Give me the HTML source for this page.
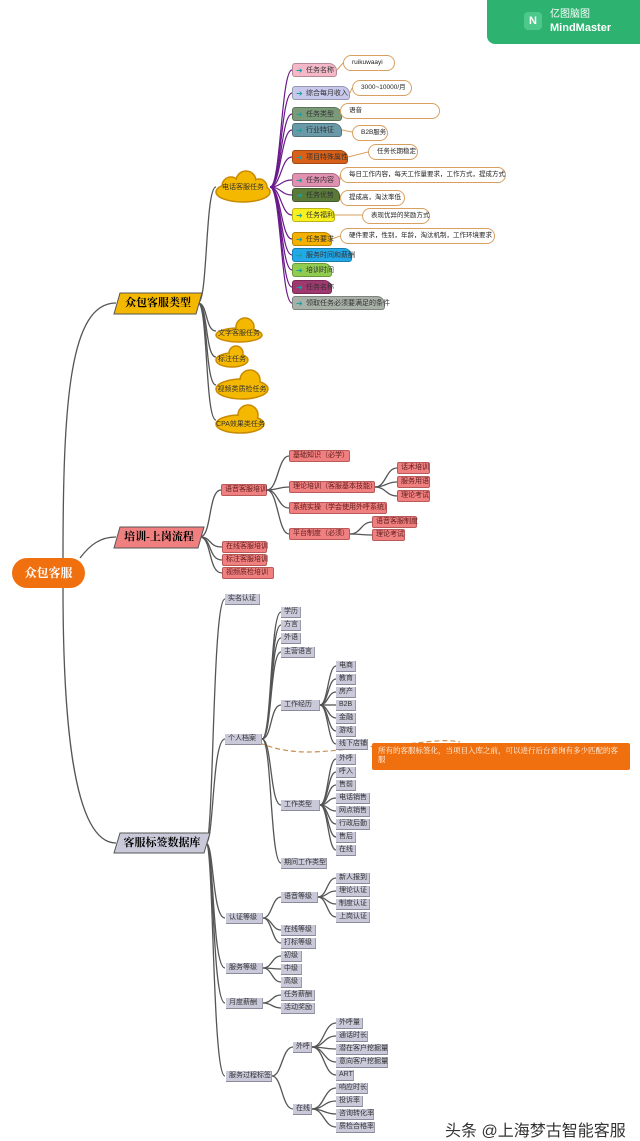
<!DOCTYPE html>
<html><head><meta charset="utf-8"><style>
*{margin:0;padding:0;box-sizing:border-box}
body{width:640px;height:1141px;background:#fff;position:relative;overflow:hidden;font-family:"Liberation Sans","Noto Sans CJK SC",sans-serif}
.n{position:absolute;font-size:7px;color:#333;white-space:nowrap;padding-left:3px}
.g{background:#c9c9da;border-bottom:1.5px solid #8a8a9a;border-right:1px solid #9a9aaa;height:11px;line-height:10px}
.r{background:#f07f7f;border:1px solid #b85a5a;border-radius:2px;height:12px;line-height:10px;color:#602020}
.t{height:14px;line-height:13px;border-radius:3px 8px 3px 3px;padding-left:13px;font-size:7px;border:1px solid rgba(0,0,0,.25)}
.t:before{content:"➜";position:absolute;left:3px;top:0;color:#1aa0a0;font-size:8px}
.c{position:absolute;border:1.3px solid #d8a060;border-radius:9px;background:#fff;font-size:6.5px;line-height:13px;height:16px;padding-left:8px;color:#222;white-space:nowrap}
.cl{position:absolute;font-size:7px;color:#333;text-align:center;white-space:nowrap}
.m{position:absolute;font-family:"Liberation Serif","Noto Serif CJK SC",serif;font-weight:bold;font-size:11px;text-align:center;line-height:20px;height:21px}
</style></head><body>
<svg width="640" height="1141" style="position:absolute;left:0;top:0">
<g fill="none" stroke="#555" stroke-width="1.3">
<path d="M63 558 C63 400 70 303 116 303"/>
<path d="M63 588 C63 700 70 843 116 843"/>
<path d="M80 558 C90 545 100 537 116 537"/>
<path d="M198 303 C208 303 205 187 216 187"/>
<path d="M198 303 C208 303 205 331 216 331"/>
<path d="M198 303 C208 303 205 357 216 357"/>
<path d="M198 303 C208 303 205 385 216 385"/>
<path d="M198 303 C208 303 205 420 216 420"/>
<path d="M200 537 C212 537 208 490 221 490"/>
<path d="M200 537 C212 537 208 547 222 547"/>
<path d="M200 537 C212 537 208 560 222 560"/>
<path d="M200 537 C212 537 208 573 222 573"/>
<path d="M267 490 C278 490 278 456 289 456"/>
<path d="M267 490 C278 490 278 487 289 487"/>
<path d="M267 490 C278 490 278 508 289 508"/>
<path d="M267 490 C278 490 278 534 289 534"/>
<path d="M375 487 C386 487 386 468 397 468"/>
<path d="M375 487 C386 487 386 482 397 482"/>
<path d="M375 487 C386 487 386 496 397 496"/>
<path d="M350 534 C361 534 361 522 372 522"/>
<path d="M350 534 C361 534 361 535 372 535"/>
<path d="M206 843 C214 843 212 599 225 599"/>
<path d="M206 843 C214 843 212 739 225 739"/>
<path d="M206 843 C214 843 212 918 225 918"/>
<path d="M206 843 C214 843 212 968 225 968"/>
<path d="M206 843 C214 843 212 1003 225 1003"/>
<path d="M206 843 C214 843 212 1076 225 1076"/>
<path d="M262 739 C272 739 270 612 281 612"/><path d="M262 739 C272 739 270 625 281 625"/><path d="M262 739 C272 739 270 638 281 638"/><path d="M262 739 C272 739 270 652 281 652"/><path d="M262 739 C272 739 270 705 281 705"/><path d="M262 739 C272 739 270 805 281 805"/><path d="M262 739 C272 739 270 863 281 863"/>
<path d="M320 705 C328 705 328 666 336 666"/><path d="M320 705 C328 705 328 679 336 679"/><path d="M320 705 C328 705 328 692 336 692"/><path d="M320 705 C328 705 328 705 336 705"/><path d="M320 705 C328 705 328 718 336 718"/><path d="M320 705 C328 705 328 731 336 731"/><path d="M320 705 C328 705 328 744 336 744"/>
<path d="M320 805 C328 805 328 759 336 759"/><path d="M320 805 C328 805 328 772 336 772"/><path d="M320 805 C328 805 328 785 336 785"/><path d="M320 805 C328 805 328 798 336 798"/><path d="M320 805 C328 805 328 811 336 811"/><path d="M320 805 C328 805 328 824 336 824"/><path d="M320 805 C328 805 328 837 336 837"/><path d="M320 805 C328 805 328 850 336 850"/>
<path d="M263 918 C272 918 272 897 281 897"/><path d="M263 918 C272 918 272 930 281 930"/><path d="M263 918 C272 918 272 943 281 943"/>
<path d="M318 897 C327 897 327 878 336 878"/><path d="M318 897 C327 897 327 891 336 891"/><path d="M318 897 C327 897 327 904 336 904"/><path d="M318 897 C327 897 327 917 336 917"/>
<path d="M263 968 C272 968 272 956 281 956"/><path d="M263 968 C272 968 272 969 281 969"/><path d="M263 968 C272 968 272 982 281 982"/>
<path d="M263 1003 C272 1003 272 995 281 995"/><path d="M263 1003 C272 1003 272 1008 281 1008"/>
<path d="M272 1076 C282 1076 282 1047 293 1047"/><path d="M272 1076 C282 1076 282 1109 293 1109"/>
<path d="M312 1047 C324 1047 324 1023 336 1023"/><path d="M312 1047 C324 1047 324 1036 336 1036"/><path d="M312 1047 C324 1047 324 1049 336 1049"/><path d="M312 1047 C324 1047 324 1062 336 1062"/><path d="M312 1047 C324 1047 324 1075 336 1075"/>
<path d="M312 1109 C324 1109 324 1088 336 1088"/><path d="M312 1109 C324 1109 324 1101 336 1101"/><path d="M312 1109 C324 1109 324 1114 336 1114"/><path d="M312 1109 C324 1109 324 1127 336 1127"/>
</g>
<g fill="none" stroke="#6a1a8a" stroke-width="1.2">
<path d="M270 187 C281 187 281 70 292 70"/><path d="M270 187 C281 187 281 93 292 93"/><path d="M270 187 C281 187 281 114 292 114"/><path d="M270 187 C281 187 281 130 292 130"/><path d="M270 187 C281 187 281 157 292 157"/><path d="M270 187 C281 187 281 180 292 180"/><path d="M270 187 C281 187 281 195 292 195"/><path d="M270 187 C281 187 281 215 292 215"/><path d="M270 187 C281 187 281 239 292 239"/><path d="M270 187 C281 187 281 255 292 255"/><path d="M270 187 C281 187 281 270 292 270"/><path d="M270 187 C281 187 281 287 292 287"/><path d="M270 187 C281 187 281 303 292 303"/>
</g>
<g fill="none" stroke="#d8a060" stroke-width="1">
<path d="M337 70 L343 63"/><path d="M350 93 L352 88"/><path d="M342 114 L340 110"/><path d="M342 130 L352 132"/><path d="M348 157 L368 152"/><path d="M340 180 L340 175"/><path d="M340 195 L340 197"/><path d="M335 215 L362 215"/><path d="M332 239 L340 236"/>
</g>
<path d="M260 743 C300 760 340 748 380 746 C420 744 440 738 460 742" fill="none" stroke="#c89050" stroke-width="1.2" stroke-dasharray="5,3"/>
<g fill="#f5b800" stroke="#c88a00" stroke-width="1.5">
<ellipse cx="243" cy="192" rx="27" ry="10"/><circle cx="231" cy="186" r="9"/><circle cx="246" cy="181" r="10"/><circle cx="259" cy="187" r="8"/>
<ellipse cx="239" cy="335" rx="23" ry="7"/><circle cx="245" cy="327" r="9"/>
<ellipse cx="232" cy="360" rx="16" ry="7"/><circle cx="236" cy="353" r="7"/>
<ellipse cx="242" cy="389" rx="26" ry="10"/><circle cx="250" cy="380" r="10"/>
<ellipse cx="240" cy="424" rx="24" ry="9"/><circle cx="248" cy="415" r="10"/>
</g>
<g fill="#f5b800">
<ellipse cx="243" cy="192" rx="26" ry="9"/><circle cx="231" cy="186" r="8"/><circle cx="246" cy="181" r="9"/><circle cx="259" cy="187" r="7"/>
<ellipse cx="239" cy="335" rx="22" ry="6"/><circle cx="245" cy="327" r="8"/>
<ellipse cx="232" cy="360" rx="15" ry="6"/><circle cx="236" cy="353" r="6"/>
<ellipse cx="242" cy="389" rx="25" ry="9"/><circle cx="250" cy="380" r="9"/>
<ellipse cx="240" cy="424" rx="23" ry="8"/><circle cx="248" cy="415" r="9"/>
</g>
<polygon points="120,293 202,293 196,314 114,314" fill="#f5b800" stroke="#555" stroke-width="1"/>
<polygon points="120,527 204,527 198,548 114,548" fill="#f07f7f" stroke="#555" stroke-width="1"/>
<polygon points="120,833 210,833 204,853 114,853" fill="#c9c9da" stroke="#555" stroke-width="1"/>
</svg>
<div style="position:absolute;left:487px;top:0;width:153px;height:44px;background:#2db36f;border-radius:0 0 0 8px"></div>
<div style="position:absolute;left:524px;top:12px;width:18px;height:18px;background:#4cc98a;border-radius:4px;color:#fff;font-size:11px;font-weight:bold;text-align:center;line-height:18px">N</div>
<div style="position:absolute;left:550px;top:9px;color:#fff;font-size:10px;line-height:12px">亿图脑图</div>
<div style="position:absolute;left:550px;top:22px;color:#fff;font-size:11px;font-weight:bold;line-height:13px">MindMaster</div>
<div style="position:absolute;left:12px;top:558px;width:73px;height:30px;background:#f07010;border-radius:15px;color:#fff;font-family:'Liberation Serif','Noto Serif CJK SC',serif;font-weight:bold;font-size:12px;line-height:30px;text-align:center">众包客服</div>
<div class="m" style="left:114px;top:293px;width:88px">众包客服类型</div>
<div class="m" style="left:114px;top:527px;width:90px">培训-上岗流程</div>
<div class="m" style="left:114px;top:833px;width:96px">客服标签数据库</div>
<div class="cl" style="left:216px;top:182px;width:54px">电话客服任务</div>
<div class="cl" style="left:216px;top:328px;width:46px">文字客服任务</div>
<div class="cl" style="left:216px;top:354px;width:32px">标注任务</div>
<div class="cl" style="left:216px;top:384px;width:52px">视频类质检任务</div>
<div class="cl" style="left:216px;top:419px;width:49px">CPA效果类任务</div>
<div class="n t" style="left:292px;top:63px;width:45px;background:#f4b8c8">任务名称</div>
<div class="n t" style="left:292px;top:86px;width:58px;background:#c8c8ec">综合每月收入</div>
<div class="n t" style="left:292px;top:107px;width:50px;background:#7a9a7a">任务类型</div>
<div class="n t" style="left:292px;top:123px;width:50px;background:#6a9aa8">行业特征</div>
<div class="n t" style="left:292px;top:150px;width:56px;background:#d86018">项目特殊属性</div>
<div class="n t" style="left:292px;top:173px;width:48px;background:#e090b0">任务内容</div>
<div class="n t" style="left:292px;top:188px;width:48px;background:#5a7a3a">任务优势</div>
<div class="n t" style="left:292px;top:208px;width:43px;background:#f8f020">任务福利</div>
<div class="n t" style="left:292px;top:232px;width:40px;background:#f5b000">任务要求</div>
<div class="n t" style="left:292px;top:248px;width:60px;background:#20a8e8">服务时间和薪酬</div>
<div class="n t" style="left:292px;top:263px;width:40px;background:#90cc50">培训时间</div>
<div class="n t" style="left:292px;top:280px;width:40px;background:#a03870">任务名称</div>
<div class="n t" style="left:292px;top:296px;width:93px;background:#a8b0a8">领取任务必须要满足的条件</div>
<div class="c" style="left:343px;top:55px;width:52px">ruikuwaayi</div>
<div class="c" style="left:352px;top:80px;width:60px">3000~10000/月</div>
<div class="c" style="left:340px;top:103px;width:100px">语音</div>
<div class="c" style="left:352px;top:125px;width:36px">B2B服务</div>
<div class="c" style="left:368px;top:144px;width:50px">任务长期稳定</div>
<div class="c" style="left:340px;top:167px;width:166px">每日工作内容，每天工作量要求，工作方式，提成方式</div>
<div class="c" style="left:340px;top:190px;width:65px">提成高，淘汰率低</div>
<div class="c" style="left:362px;top:208px;width:68px">表现优异的奖励方式</div>
<div class="c" style="left:340px;top:228px;width:155px">硬件要求，性别，年龄，淘汰机制，工作环境要求</div>
<div class="n r" style="left:221px;top:484px;width:46px">语音客服培训</div>
<div class="n r" style="left:289px;top:450px;width:61px">基础知识（必学）</div>
<div class="n r" style="left:289px;top:481px;width:86px">理论培训（客服基本技能）</div>
<div class="n r" style="left:289px;top:502px;width:98px">系统实操（学会使用外呼系统）</div>
<div class="n r" style="left:289px;top:528px;width:61px">平台制度（必须）</div>
<div class="n r" style="left:397px;top:462px;width:33px">话术培训</div>
<div class="n r" style="left:397px;top:476px;width:33px">服务用语</div>
<div class="n r" style="left:397px;top:490px;width:33px">理论考试</div>
<div class="n r" style="left:372px;top:516px;width:45px">语音客服制度</div>
<div class="n r" style="left:372px;top:529px;width:33px">理论考试</div>
<div class="n r" style="left:222px;top:541px;width:45px">在线客服培训</div>
<div class="n r" style="left:222px;top:554px;width:45px">标注客服培训</div>
<div class="n r" style="left:222px;top:567px;width:52px">视频质检培训</div>
<div class="n g" style="left:225px;top:594px;width:35px">实名认证</div>
<div class="n g" style="left:225px;top:734px;width:37px">个人档案</div>
<div class="n g" style="left:281px;top:607px;width:20px">学历</div>
<div class="n g" style="left:281px;top:620px;width:20px">方言</div>
<div class="n g" style="left:281px;top:633px;width:20px">外语</div>
<div class="n g" style="left:281px;top:647px;width:34px">主营语言</div>
<div class="n g" style="left:281px;top:700px;width:39px">工作经历</div>
<div class="n g" style="left:336px;top:661px;width:20px">电商</div>
<div class="n g" style="left:336px;top:674px;width:20px">教育</div>
<div class="n g" style="left:336px;top:687px;width:20px">房产</div>
<div class="n g" style="left:336px;top:700px;width:20px">B2B</div>
<div class="n g" style="left:336px;top:713px;width:20px">金融</div>
<div class="n g" style="left:336px;top:726px;width:20px">游戏</div>
<div class="n g" style="left:336px;top:739px;width:32px">线下店铺</div>
<div class="n g" style="left:336px;top:754px;width:20px">外呼</div>
<div class="n g" style="left:336px;top:767px;width:20px">呼入</div>
<div class="n g" style="left:336px;top:780px;width:20px">售前</div>
<div class="n g" style="left:336px;top:793px;width:34px">电话销售</div>
<div class="n g" style="left:336px;top:806px;width:34px">网点销售</div>
<div class="n g" style="left:336px;top:819px;width:34px">行政后勤</div>
<div class="n g" style="left:336px;top:832px;width:20px">售后</div>
<div class="n g" style="left:336px;top:845px;width:20px">在线</div>
<div class="n g" style="left:281px;top:800px;width:39px">工作类型</div>
<div class="n g" style="left:281px;top:858px;width:46px">期间工作类型</div>
<div style="position:absolute;left:372px;top:743px;width:258px;height:27px;background:#f07010;color:#fff;font-family:'Liberation Serif','Noto Serif CJK SC',serif;font-size:7.5px;line-height:9px;padding:3px 6px;border-radius:2px">所有的客服标签化，当项目入库之前，可以进行后台查询有多少匹配的客服</div>
<div class="n g" style="left:226px;top:913px;width:37px">认证等级</div>
<div class="n g" style="left:281px;top:892px;width:37px">语音等级</div>
<div class="n g" style="left:281px;top:925px;width:35px">在线等级</div>
<div class="n g" style="left:281px;top:938px;width:35px">打标等级</div>
<div class="n g" style="left:336px;top:873px;width:34px">新人报到</div>
<div class="n g" style="left:336px;top:886px;width:34px">理论认证</div>
<div class="n g" style="left:336px;top:899px;width:34px">制度认证</div>
<div class="n g" style="left:336px;top:912px;width:34px">上岗认证</div>
<div class="n g" style="left:226px;top:963px;width:37px">服务等级</div>
<div class="n g" style="left:281px;top:951px;width:21px">初级</div>
<div class="n g" style="left:281px;top:964px;width:21px">中级</div>
<div class="n g" style="left:281px;top:977px;width:21px">高级</div>
<div class="n g" style="left:226px;top:998px;width:37px">月度薪酬</div>
<div class="n g" style="left:281px;top:990px;width:34px">任务薪酬</div>
<div class="n g" style="left:281px;top:1003px;width:34px">活动奖励</div>
<div class="n g" style="left:226px;top:1071px;width:46px">服务过程标签</div>
<div class="n g" style="left:293px;top:1042px;width:19px">外呼</div>
<div class="n g" style="left:293px;top:1104px;width:19px">在线</div>
<div class="n g" style="left:336px;top:1018px;width:27px">外呼量</div>
<div class="n g" style="left:336px;top:1031px;width:32px">通话时长</div>
<div class="n g" style="left:336px;top:1044px;width:52px">潜在客户挖掘量</div>
<div class="n g" style="left:336px;top:1057px;width:52px">意向客户挖掘量</div>
<div class="n g" style="left:336px;top:1070px;width:18px">ART</div>
<div class="n g" style="left:336px;top:1083px;width:32px">响应时长</div>
<div class="n g" style="left:336px;top:1096px;width:27px">投诉率</div>
<div class="n g" style="left:336px;top:1109px;width:38px">咨询转化率</div>
<div class="n g" style="left:336px;top:1122px;width:39px">质检合格率</div>
<div style="position:absolute;left:445px;top:1123px;font-size:16px;color:#333;line-height:17px;white-space:nowrap">头条 @上海梦古智能客服</div>
</body></html>
